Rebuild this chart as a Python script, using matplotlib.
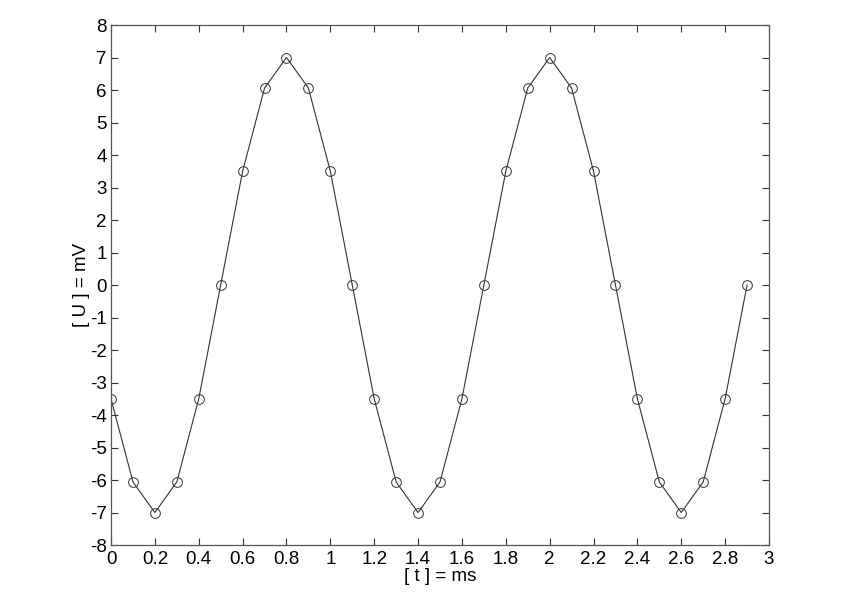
import matplotlib
matplotlib.use("Agg")
import matplotlib.pyplot as plt

# sampled signal, t in ms, U in mV
t = [0.0, 0.1, 0.2, 0.3, 0.4, 0.5, 0.6, 0.7, 0.8, 0.9,
     1.0, 1.1, 1.2, 1.3, 1.4, 1.5, 1.6, 1.7, 1.8, 1.9,
     2.0, 2.1, 2.2, 2.3, 2.4, 2.5, 2.6, 2.7, 2.8, 2.9]
u = [-3.5, -6.06, -7.0, -6.06, -3.5, 0.0, 3.5, 6.06, 7.0, 6.06,
     3.5, 0.0, -3.5, -6.06, -7.0, -6.06, -3.5, 0.0, 3.5, 6.06,
     7.0, 6.06, 3.5, 0.0, -3.5, -6.06, -7.0, -6.06, -3.5, 0.0]

xticks = [0, 0.2, 0.4, 0.6, 0.8, 1, 1.2, 1.4, 1.6, 1.8, 2, 2.2, 2.4, 2.6, 2.8, 3]
yticks = list(range(-8, 9))

plt.rcParams['font.family'] = ['Liberation Sans', 'DejaVu Sans']
plt.rcParams['axes.unicode_minus'] = False

fig = plt.figure(figsize=(8.5, 6.15), dpi=100)
ax = fig.add_axes([0.1306, 0.1138, 0.7741, 0.8455])

ax.plot(t, u, color='#333333', linewidth=0.8, marker='o', markersize=7,
        markerfacecolor='none', markeredgecolor='#333333', markeredgewidth=0.7)

ax.set_xlim(0, 3)
ax.set_ylim(-8, 8)
ax.set_xticks(xticks)
ax.set_xticklabels([f"{v:g}" for v in xticks])
ax.set_yticks(yticks)
ax.set_yticklabels([str(v) for v in yticks])
ax.tick_params(direction='in', top=True, right=True, length=5, width=0.8,
               labelsize=13.5, color='#333333')
ax.tick_params(axis='x', pad=4)
ax.tick_params(axis='y', pad=3)
for s in ax.spines.values():
    s.set_color('#555555')
    s.set_linewidth(0.9)

ax.set_xlabel('[ t ] = ms', fontsize=13.5, labelpad=0)
ax.set_ylabel('[ U ] = mV', fontsize=13.5, labelpad=0)

fig.savefig('out.png', dpi=100)
